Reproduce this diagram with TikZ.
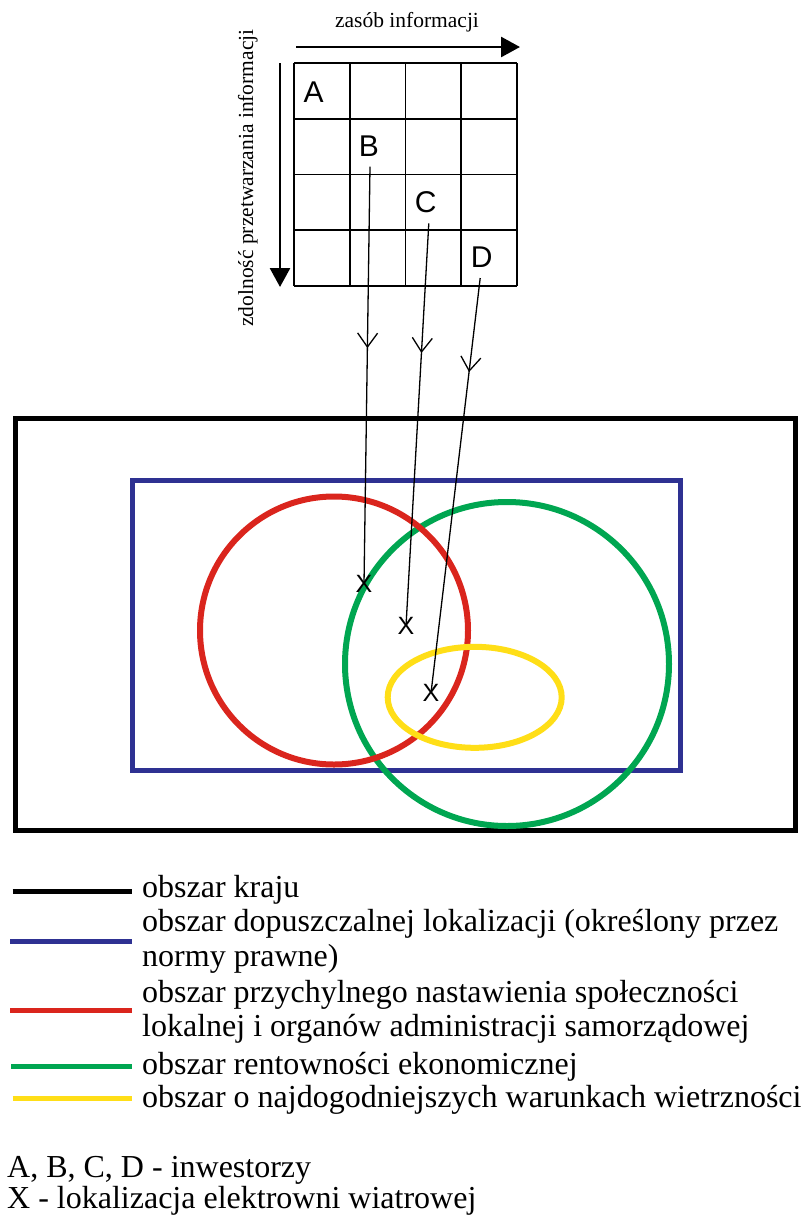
\documentclass[tikz,border=0pt]{standalone}
\usepackage{fontspec}
\setmainfont{Liberation Serif}
\newfontfamily\arialf{Liberation Sans}
\usetikzlibrary{arrows.meta,decorations.markings}
\definecolor{cblue}{RGB}{46,49,146}
\definecolor{cred}{RGB}{218,37,29}
\definecolor{cgreen}{RGB}{0,166,81}
\definecolor{cyellow}{RGB}{255,222,23}
\begin{document}
\begin{tikzpicture}[x=1pt,y=-1pt,
  gridline/.style={line width=1.7pt},
  axisarrow/.style={line width=2.7pt,-{Triangle[length=19pt,width=20pt]}},
  axislabel/.style={font=\fontsize{21.5}{24}\selectfont,inner sep=0pt},
  letter/.style={font=\arialf\fontsize{30}{30}\selectfont,inner sep=0pt},
  xmark/.style={font=\arialf\fontsize{25}{25}\selectfont,inner sep=0pt},
  conn/.style={line width=1.3pt,
    decoration={markings,mark=at position #1 with {\arrow{Straight Barb[length=14pt,width=20pt,line width=1.3pt]}}},
    postaction=decorate},
  area/.style={line width=#1},
  legline/.style={line width=5pt},
  legtext/.style={font=\fontsize{32}{36}\selectfont,inner sep=0pt,anchor=base west}]
\useasboundingbox (0,0) rectangle (803,1216);
% matrix grid
\foreach \i in {0,...,4}{
  \draw[gridline] (294+\i*55.75,63) -- (294+\i*55.75,286);
  \draw[gridline] (294,63+\i*55.75) -- (517,63+\i*55.75);
}
\coordinate (hs) at (296,47);
\coordinate (he) at (520,47);
\coordinate (vs) at (280,63);
\coordinate (ve) at (280,287);
\draw[axisarrow] (hs) -- (he);
\draw[axisarrow] (vs) -- (ve);
\node[axislabel,anchor=base] (zi) at (407,27) {zasób informacji};
\node[axislabel,anchor=base,rotate=90] (zp) at (253,178) {zdolność przetwarzania informacji};
\node[letter] (A) at (313.6,91.7) {A};
\node[letter] (B) at (369,146) {B};
\node[letter] (C) at (425.8,202.5) {C};
\node[letter] (D) at (481.7,257.5) {D};
% areas
\draw[area=5pt,black] (15.5,418) rectangle (795,830);
\draw[area=5pt,cblue] (132,480) rectangle (680,770);
\draw[area=6pt,cgreen] (507,664) circle[radius=162pt];
\draw[area=6pt,cred] (334,630.5) circle[radius=134pt];
\draw[area=6pt,cyellow] (474.7,697.3) ellipse[x radius=87pt,y radius=50.5pt];
% locations
\node[xmark] (X1) at (364,584) {X};
\node[xmark] (X2) at (406,626) {X};
\node[xmark] (X3) at (431,693) {X};
\draw[conn=0.435] ([xshift=1pt,yshift=-10pt]B.south) -- (X1.center);
\draw[conn=0.322] ([xshift=3pt,yshift=-10pt]C.south) -- (X2.center);
\draw[conn=0.2265] ([xshift=-1.5pt,yshift=-10pt]D.south) -- (X3.center);
% legend
\draw[legline,black] (12.7,891) -- (131.7,891);
\draw[legline,cblue] (10,941.7) -- (131.7,941.7);
\draw[legline,cred] (10,1010) -- (131.7,1010);
\draw[legline,cgreen] (11,1066.7) -- (131.7,1066.7);
\draw[legline,cyellow] (12.7,1098.3) -- (131.7,1098.3);
\node[legtext] (l1) at (142,897) {obszar kraju};
\node[legtext] (l2) at (142,931) {obszar dopuszczalnej lokalizacji (określony przez};
\node[legtext] (l3) at (142,966) {normy prawne)};
\node[legtext] (l4) at (142,1002) {obszar przychylnego nastawienia społeczności};
\node[legtext] (l5) at (142,1036) {lokalnej i organów administracji samorządowej};
\node[legtext] (l6) at (142,1074) {obszar rentowności ekonomicznej};
\node[legtext] (l7) at (142,1107) {obszar o najdogodniejszych warunkach wietrzności};
\node[legtext] (k1) at (7,1177) {A, B, C, D - inwestorzy};
\node[legtext] (k2) at (7,1208) {X - lokalizacja elektrowni wiatrowej};
\end{tikzpicture}
\end{document}
